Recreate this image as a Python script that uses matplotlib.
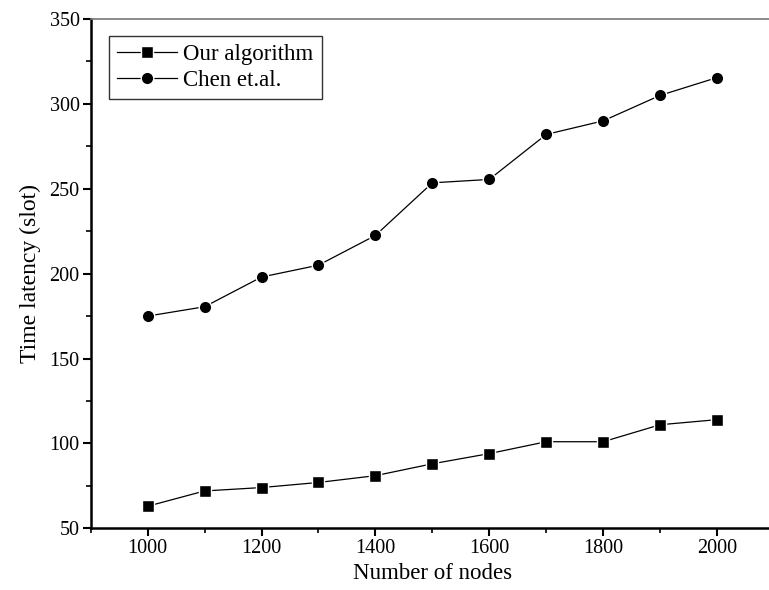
import matplotlib
matplotlib.use("Agg")
import matplotlib.pyplot as plt
from matplotlib.ticker import MultipleLocator

nodes = [1000, 1100, 1200, 1300, 1400, 1500, 1600, 1700, 1800, 1900, 2000]
ours = [63, 72, 74, 77, 81, 88, 94, 101, 101, 111, 114]
chen = [175, 180.5, 198, 205, 222.5, 253.5, 255.5, 282, 290, 305, 315.5]
labels = ["Our algorithm", "Chen et.al."]
x_ticks = [1000, 1200, 1400, 1600, 1800, 2000]
y_ticks = [50, 100, 150, 200, 250, 300, 350]

plt.rcParams['font.family'] = ['Liberation Serif', 'DejaVu Serif']

fig = plt.figure(figsize=(7.69, 5.90), dpi=100)
ax = fig.add_axes([90.7/769, 61.7/590, (774-90.7)/769, (528.3-19)/590])

ax.plot(nodes, ours, color='black', lw=0.9, marker='s', ms=8, mfc='black',
        mec='white', mew=1.0, label=labels[0])
ax.plot(nodes, chen, color='black', lw=0.9, marker='o', ms=9, mfc='black',
        mec='white', mew=1.0, label=labels[1])

ax.set_xlim(900, 2100)
ax.set_ylim(50, 350)
ax.set_xticks(x_ticks)
ax.set_yticks(y_ticks)
ax.xaxis.set_minor_locator(MultipleLocator(100))
ax.yaxis.set_minor_locator(MultipleLocator(25))
ax.tick_params(which='major', direction='out', length=6, width=1.5, labelsize=14.5, pad=2)
ax.tick_params(which='minor', direction='out', length=3.5, width=1.2)
ax.tick_params(top=False, right=False, which='both')

for s in ['left', 'bottom']:
    ax.spines[s].set_linewidth(1.8)
    ax.spines[s].set_color('black')
ax.spines['top'].set_linewidth(1.2)
ax.spines['top'].set_color('#777777')
ax.spines['right'].set_visible(False)

ax.set_xlabel("Number of nodes", fontsize=16.5, labelpad=3)
ax.set_ylabel("Time latency (slot)", fontsize=17, labelpad=6)

leg = ax.legend(loc='upper left', bbox_to_anchor=((109-90.7)/683.3, (528.3-35.7)/509.3),
                fontsize=16.5, frameon=True, fancybox=False, edgecolor='black',
                handlelength=2.6, handletextpad=0.3, borderpad=0.35,
                labelspacing=0.22, borderaxespad=0)
leg.get_frame().set_linewidth(1.0)

fig.savefig("out.png", dpi=100)
